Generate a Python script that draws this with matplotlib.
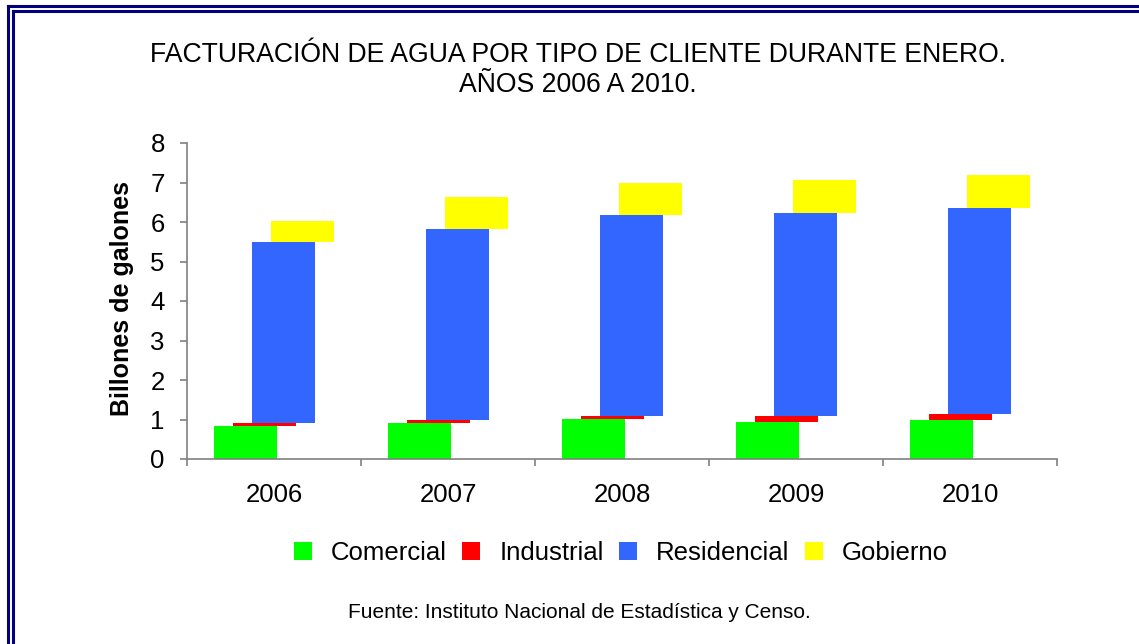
import matplotlib.pyplot as plt
import numpy as np
from matplotlib.lines import Line2D
from matplotlib.patches import Patch

plt.rcParams["font.family"] = ["Liberation Sans", "DejaVu Sans"]

# Data (billions of gallons)
years = ["2006", "2007", "2008", "2009", "2010"]
comercial = [0.83, 0.91, 1.01, 0.93, 0.99]
industrial = [0.07, 0.08, 0.09, 0.16, 0.15]
residencial = [4.59, 4.83, 5.08, 5.14, 5.21]
gobierno = [0.54, 0.81, 0.81, 0.83, 0.84]

series = ["Comercial", "Industrial", "Residencial", "Gobierno"]
colors = ["#00FF00", "#FF0000", "#3366FF", "#FFFF00"]

W, H = 1139, 644
fig = plt.figure(figsize=(W / 100, H / 100), dpi=100)
ax = fig.add_axes([187 / W, 1 - 459 / H, 870 / W, 316 / H])

# Stacked bars, each series shifted a bit to the right
x = np.arange(len(years)) + 0.5
width = 0.362
step = 0.109
bottom = np.zeros(len(years))
for k, (name, vals, col) in enumerate(
    zip(series, [comercial, industrial, residencial, gobierno], colors)
):
    ax.bar(x + (k - 1.5) * step, vals, width, bottom=bottom, color=col,
           linewidth=0, label=name, zorder=2 + k)
    bottom += np.array(vals)

ax.set_xlim(0, 5)
ax.set_ylim(0, 8)
ax.set_yticks(range(0, 9))
ax.set_xticks(range(0, 6))
ax.set_xticklabels([])
ax.set_xticks(x, minor=True)
ax.set_xticklabels(years, minor=True)
ax.tick_params(axis="x", which="major", direction="out", length=5,
               color="#808080", width=1.2)
ax.tick_params(axis="x", which="minor", length=0, pad=17, labelsize=18.5)
ax.tick_params(axis="y", direction="out", length=5, color="#808080",
               width=1.2, pad=11, labelsize=18.5)
for s in ["top", "right"]:
    ax.spines[s].set_visible(False)
for s in ["left", "bottom"]:
    ax.spines[s].set_color("#808080")
    ax.spines[s].set_linewidth(1.2)

fig.text(122 / W, 1 - 299 / H, "Billones de galones", rotation=90,
         ha="center", va="center", fontsize=18, fontweight="bold")

fig.text(578 / W, 1 - 70 / H,
         "FACTURACIÓN DE AGUA POR TIPO DE CLIENTE DURANTE ENERO.\nAÑOS 2006 A 2010.",
         ha="center", va="center", fontsize=19.2, linespacing=1.25)

handles = [Patch(facecolor=c, edgecolor="none") for c in colors]
fig.legend(handles, series, loc="center", bbox_to_anchor=(621 / W, 1 - 553 / H),
           ncol=4, frameon=False, fontsize=18.5, handlelength=0.7,
           handleheight=0.7, handletextpad=0.74, columnspacing=0.6,
           borderpad=0)

fig.text(579 / W, 1 - 612 / H, "Fuente: Instituto Nacional de Estadística y Censo.",
         ha="center", va="center", fontsize=15)

# Double navy frame (left and top edges visible)
navy = "#000080"
for off in (7.5, 12.5):
    fig.add_artist(Line2D([off / W, off / W], [0, 1 - (off - 2) / H],
                          transform=fig.transFigure, color=navy, lw=2.2))
    fig.add_artist(Line2D([off / W, 1], [1 - (off - 2) / H, 1 - (off - 2) / H],
                          transform=fig.transFigure, color=navy, lw=2.2))

fig.savefig("out.png", dpi=100)
